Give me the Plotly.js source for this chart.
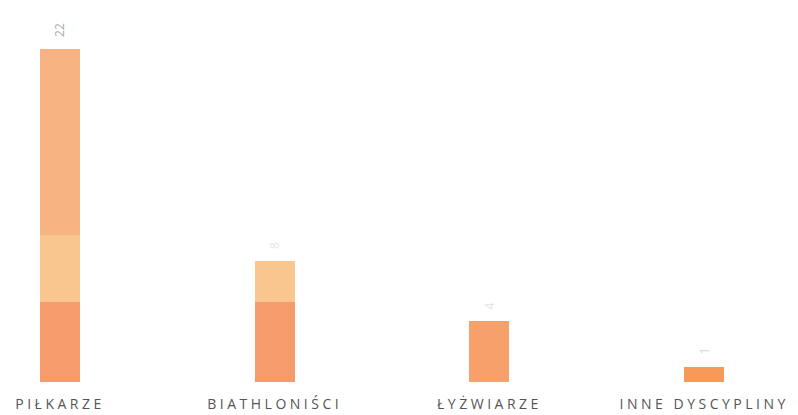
<!DOCTYPE html>
<html><head><meta charset="utf-8">
<script src="https://cdn.plot.ly/plotly-3.0.1.min.js"></script>
<style>
body{margin:0;background:#fff}
#chart{width:798px;height:415px}
.xtick text{letter-spacing:3.5px}
</style></head>
<body><div id="chart"></div>
<script>
const categories = ["PIŁKARZE", "BIATHLONIŚCI", "ŁYŻWIARZE", "INNE DYSCYPLINY"];
const totals = [22, 8, 4, 1];
const baseSeg = [5.3, 5.3, 4, 1];
const midSeg = [4.4, 2.7, 0, 0];
const topSeg = [12.3, 0, 0, 0];
const baseColors = ["#F69B6C", "#F69B6C", "#F7A06B", "#F79A58"];
const labelColors = ["#aaaaaa", "#e6e6e6", "#e2e2e2", "#d8d8d8"];

const w = 0.186;
const traces = [
  {type:"bar", x:categories, y:baseSeg, width:w, marker:{color:baseColors, line:{width:0}}, hoverinfo:"skip"},
  {type:"bar", x:categories, y:midSeg, width:w, marker:{color:"#F9C690", line:{width:0}}, hoverinfo:"skip"},
  {type:"bar", x:categories, y:topSeg, width:w, marker:{color:"#F8B382", line:{width:0}}, hoverinfo:"skip"}
];
const annotations = categories.map((c,i)=>({
  x:c, y:totals[i], yref:"y", xref:"x", text:String(totals[i]), showarrow:false,
  textangle:-90, yanchor:"bottom", yshift:10,
  font:{family:"Open Sans", size:12, color:labelColors[i]}
}));
const layout = {
  width:798, height:415, barmode:"stack", showlegend:false,
  paper_bgcolor:"#fff", plot_bgcolor:"#fff",
  margin:{l:0, r:0, t:10, b:33},
  xaxis:{range:[-0.2795, 3.437], showgrid:false, zeroline:false, showline:false, ticks:"",
    ticklabelstandoff:12,
    tickfont:{family:"Open Sans", size:14, color:"#555"}},
  yaxis:{range:[0, 24.57], visible:false, showgrid:false, zeroline:false},
  annotations:annotations
};
Plotly.newPlot("chart", traces, layout, {displayModeBar:false, staticPlot:true});
</script></body></html>
